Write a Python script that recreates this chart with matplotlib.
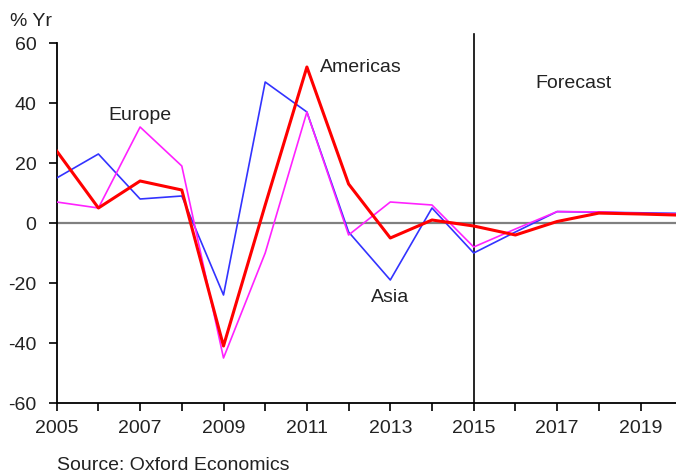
import numpy as np
import matplotlib.pyplot as plt

plt.rcParams['font.family'] = ['Liberation Sans', 'DejaVu Sans']
plt.rcParams['axes.unicode_minus'] = False

years = np.arange(2005, 2021)
americas = [24, 5, 14, 11, -41, 6, 52, 13, -5, 1, -1, -4, 0.5, 3.3, 3, 2.6]
asia = [15, 23, 8, 9, -24, 47, 37, -3, -19, 5, -10, -3, 3.8, 3.6, 3.4, 3.2]
europe = [7, 5, 32, 19, -45, -10, 37, -4, 7, 6, -8, -2, 3.8, 3.7, 3.2, 3.0]

xticks = np.arange(2005, 2021)
xlabels = [str(y) if (y - 2005) % 2 == 0 else "" for y in xticks]
yticks = [-60, -40, -20, 0, 20, 40, 60]

fig = plt.figure(figsize=(6.76, 4.72), dpi=100)
ax = fig.add_axes([56.7 / 676, 69 / 472, 625.5 / 676, 360 / 472])

# zero line and forecast divider
ax.axhline(0, color='#808080', lw=1.6, zorder=1)
ax.plot([2015, 2015], [-60, 63], color='black', lw=1.2, clip_on=False, zorder=2)

ax.plot(years, asia, color='#3333ff', lw=1.2, zorder=3)
ax.plot(years, europe, color='#ff22ff', lw=1.2, zorder=3)
ax.plot(years, americas, color='#ff0000', lw=2.2, zorder=4)

ax.set_xlim(2005, 2020)
ax.set_ylim(-60, 60)
ax.set_xticks(xticks)
ax.set_xticklabels(xlabels)
ax.set_yticks(yticks)
ax.tick_params(axis='both', direction='out', length=5.5, width=1.2,
               labelsize=14, colors='black', labelcolor='#222222')
ax.tick_params(axis='x', pad=7)
ax.tick_params(axis='y', pad=9)

for s in ['top', 'right']:
    ax.spines[s].set_visible(False)
for s in ['left', 'bottom']:
    ax.spines[s].set_linewidth(1.3)

ax.text(2012.3, 52, "Americas", fontsize=14, color='#222222', ha='center', va='center')
ax.text(2007.0, 36, "Europe", fontsize=14, color='#222222', ha='center', va='center')
ax.text(2013.0, -25, "Asia", fontsize=14, color='#222222', ha='center', va='center')
ax.text(2017.4, 46.5, "Forecast", fontsize=14, color='#222222', ha='center', va='center')

fig.text(10 / 676, 1 - 21 / 472, "% Yr", fontsize=14, color='#222222', va='center')
fig.text(57 / 676, 1 - 465 / 472, "Source: Oxford Economics", fontsize=14,
         color='#222222', va='center')

fig.savefig("out.png", dpi=100)
